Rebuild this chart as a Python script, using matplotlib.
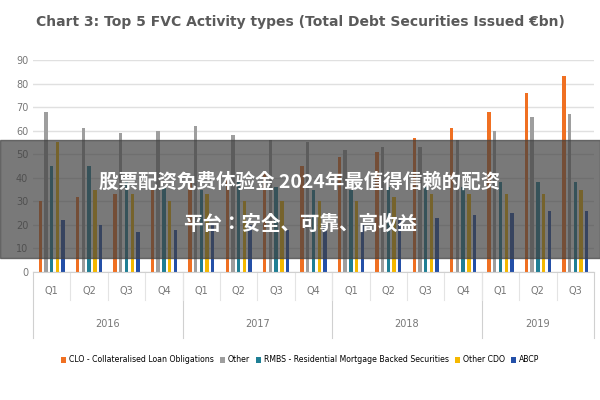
import numpy as np
import matplotlib.pyplot as plt

quarters = ["Q1", "Q2", "Q3", "Q4"] * 3 + ["Q1", "Q2", "Q3"]
years = ["2016", "2017", "2018", "2019"]
clo = [30, 32, 33, 35, 38, 40, 42, 45, 49, 51, 57, 61, 68, 76, 83]
other = [68, 61, 59, 60, 62, 58, 56, 55, 52, 53, 53, 56, 60, 66, 67]
rmbs = [45, 45, 38, 36, 35, 38, 36, 35, 35, 36, 36, 36, 38, 38, 38]
other_cdo = [55, 35, 33, 30, 33, 30, 30, 30, 30, 32, 33, 33, 33, 33, 35]
abcp = [22, 20, 17, 18, 20, 20, 18, 20, 20, 22, 23, 24, 25, 26, 26]

series = [
    ("CLO - Collateralised Loan Obligations", clo, "#f07022"),
    ("Other", other, "#9e9e9e"),
    ("RMBS - Residential Mortgage Backed Securities", rmbs, "#1f7f95"),
    ("Other CDO", other_cdo, "#f5b800"),
    ("ABCP", abcp, "#2450a8"),
]
cjk = ["Noto Sans CJK SC", "Noto Sans CJK JP", "DejaVu Sans"]

fig = plt.figure(figsize=(6, 4), dpi=100)
ax = fig.add_axes([0.055, 0.32, 0.935, 0.53])
x = np.arange(len(quarters))
w = 0.09
for i, (name, vals, col) in enumerate(series):
    ax.bar(x + (i - 2) * w * 1.7, vals, w, color=col, label=name)

ax.set_ylim(0, 90)
ax.set_yticks(range(0, 91, 10))
ax.set_xlim(-0.5, len(quarters) - 0.5)
ax.grid(axis="y", color="#e0e0e0", linewidth=1)
ax.set_axisbelow(True)
for s in ["top", "right", "left"]:
    ax.spines[s].set_visible(False)
ax.spines["bottom"].set_color("#d0d0d0")
ax.tick_params(axis="y", length=0, labelsize=7, colors="#777777")
ax.set_xticks(x)
ax.set_xticklabels(quarters, fontsize=7, color="#777777")
ax.tick_params(axis="x", length=0, pad=10)
for i, yr in enumerate(years):
    start = i * 4
    n = 4 if i < 3 else 3
    ax.text(start + (n - 1) / 2, -22, yr, ha="center", va="center", fontsize=7,
            color="#777777", clip_on=False)
for b in [-0.5, 3.5, 7.5, 11.5, 14.5]:
    ax.plot([b, b], [0, -28], color="#d0d0d0", lw=0.8, clip_on=False)
for b in np.arange(0.5, 14.5, 1):
    ax.plot([b, b], [0, -12], color="#e4e4e4", lw=0.8, clip_on=False)

fig.text(0.5, 0.935, "Chart 3: Top 5 FVC Activity types (Total Debt Securities Issued €bn)",
         ha="center", fontsize=10, fontweight="bold", color="#5a5a5a")
fig.legend(loc="center", ncol=5, frameon=False, fontsize=5.6,
           handlelength=0.7, handletextpad=0.3, columnspacing=0.8,
           bbox_to_anchor=(0.5, 0.1))

# overlay banner
fig.patches.append(plt.Rectangle((0, 0.355), 1, 0.295, transform=fig.transFigure,
                                 color="#404040", alpha=0.7, zorder=5))
fig.text(0.5, 0.545, "股票配资免费体验金 2024年最值得信赖的配资", ha="center", va="center",
         fontsize=14, fontweight="bold", color="white", fontfamily=cjk, zorder=6)
fig.text(0.5, 0.44, "平台：安全、可靠、高收益", ha="center", va="center",
         fontsize=14, fontweight="bold", color="white", fontfamily=cjk, zorder=6)

fig.savefig("out.png", dpi=100)
